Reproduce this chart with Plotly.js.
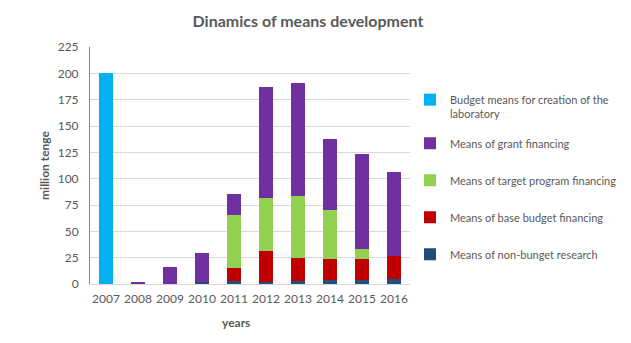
<!DOCTYPE html>
<html>
<head>
<meta charset="utf-8">
<script src="https://cdn.plot.ly/plotly-3.0.1.min.js"></script>
<style>html,body{margin:0;padding:0;background:#fff;}#chart{width:631px;height:343px;}</style>
</head>
<body>
<div id="chart"></div>
<script>
const years = ['2007','2008','2009','2010','2011','2012','2013','2014','2015','2016'];
const nonBudgetResearch = [0, 0, 0, 2.2, 2.8, 2.2, 2.8, 4.1, 4.1, 4.7];
const baseBudget = [0, 0, 0, 0, 12.3, 29.1, 21.8, 19.6, 19.6, 21.8];
const targetProgram = [0, 0, 0, 0, 50.3, 50.3, 58.9, 46.5, 9.5, 0];
const grantFinancing = [0, 1.9, 16.1, 27.2, 19.9, 105.4, 107.3, 67.4, 90.2, 79.8];
const labCreation = [200, 0, 0, 0, 0, 0, 0, 0, 0, 0];
const yTicks = [0, 25, 50, 75, 100, 125, 150, 175, 200, 225];

const FONT = 'Lato, "Open Sans", sans-serif';
const GRAY = '#595959';

function tr(name, vals, color, leg) {
  return {type: 'bar', x: years, y: vals, name: name, marker: {color: color},
          legend: leg, hoverinfo: 'x+y+name'};
}
const traces = [
  tr('Means of non-bunget research', nonBudgetResearch, '#1F4E79', 'legend5'),
  tr('Means of base budget financing', baseBudget, '#C00000', 'legend4'),
  tr('Means of target program financing', targetProgram, '#92D050', 'legend3'),
  tr('Means of grant financing', grantFinancing, '#7030A0', 'legend2'),
  tr('Budget means for creation of the<br>laboratory', labCreation, '#00B0F0', 'legend')
];

const H = 343, W = 631;
function leg(yPx) {
  return {xref: 'container', yref: 'container', x: 410 / W, y: 1 - yPx / H,
          xanchor: 'left', yanchor: 'middle', valign: 'top',
          font: {family: FONT, size: 11, color: GRAY}, bgcolor: 'rgba(0,0,0,0)'};
}

const layout = {
  width: W, height: H,
  margin: {l: 90, r: 211, t: 47, b: 59},
  paper_bgcolor: '#fff', plot_bgcolor: '#fff',
  barmode: 'stack', bargap: 0.55,
  title: {text: '<b>Dinamics of means development</b>', x: 308 / W, xanchor: 'center',
          y: 1 - 21 / H, yanchor: 'middle',
          font: {family: FONT, size: 16, color: GRAY}},
  xaxis: {type: 'category', showgrid: false, showline: true, linecolor: '#D9D9D9', linewidth: 1,
          ticks: '', ticklabelstandoff: 4, tickfont: {family: FONT, size: 12, color: GRAY}},
  yaxis: {range: [0, 225], tickvals: yTicks, ticktext: yTicks.map(String), showgrid: true,
          gridcolor: '#D9D9D9', gridwidth: 1, showline: true, linecolor: '#868686', linewidth: 1,
          zeroline: false, ticks: '', ticklabelstandoff: 8,
          tickfont: {family: FONT, size: 12, color: GRAY},
          title: {text: '<b>million tenge</b>', standoff: 5, font: {family: FONT, size: 12, color: GRAY}}},
  showlegend: true,
  legend: leg(107), legend2: leg(144), legend3: leg(181), legend4: leg(218), legend5: leg(255),
  annotations: [{text: '<b>years</b>', xref: 'paper', yref: 'paper', x: (241 - 90) / 330, y: 0,
                 yshift: -38, showarrow: false, xanchor: 'center', yanchor: 'middle',
                 font: {family: FONT, size: 12, color: GRAY}}]
};

Plotly.newPlot('chart', traces, layout, {displayModeBar: false, staticPlot: true});
</script>
</body>
</html>
